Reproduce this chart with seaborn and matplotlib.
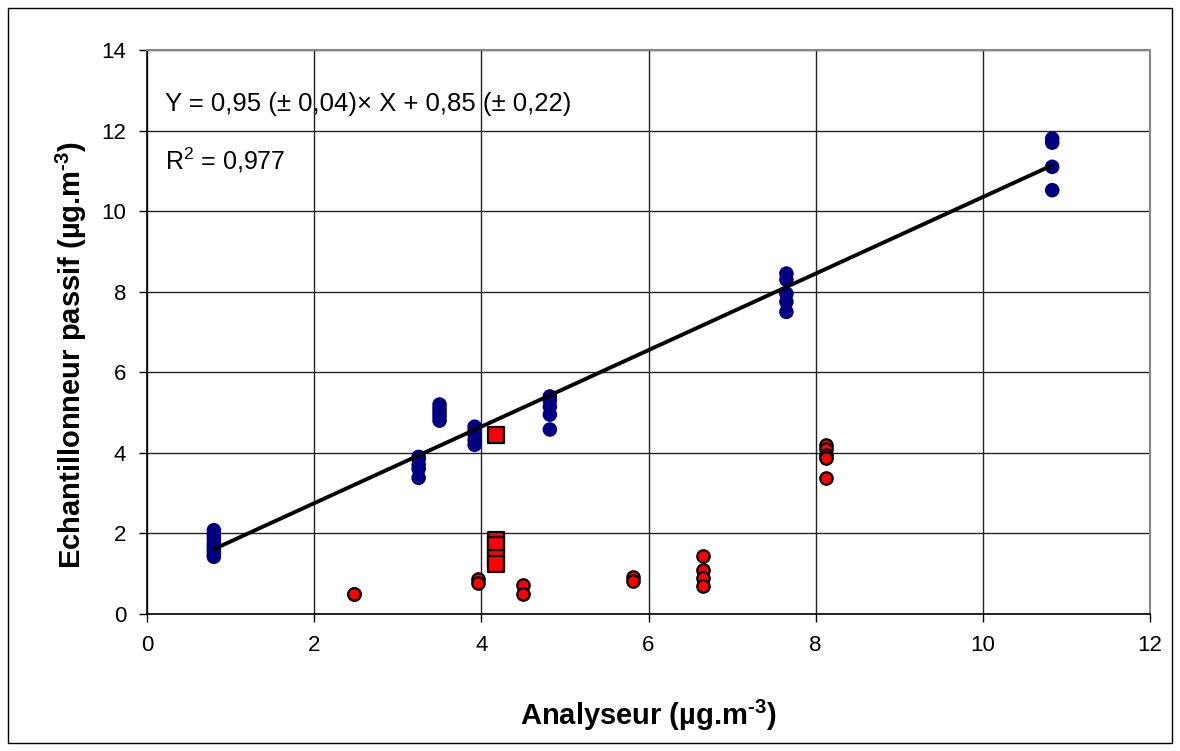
import matplotlib
matplotlib.use("Agg")
from matplotlib import pyplot as plt
from matplotlib.patches import Rectangle
import seaborn as sns
import pandas as pd
import numpy as np

# blue series: passive sampler vs analyser
blue_x = [0.8] * 9 + [3.25] * 5 + [3.5] * 5 + [3.92] * 5 + [4.82] * 5 + [7.65] * 5 + [10.83] * 4
blue_y = [2.08, 1.98, 1.88, 1.78, 1.70, 1.62, 1.55, 1.48, 1.42,
          3.90, 3.84, 3.70, 3.60, 3.38,
          5.20, 5.10, 5.00, 4.90, 4.80,
          4.65, 4.55, 4.45, 4.32, 4.20,
          5.40, 5.30, 5.15, 4.95, 4.58,
          8.45, 8.30, 7.95, 7.75, 7.50,
          11.80, 11.70, 11.10, 10.52]

# red circles
red_x = [2.48, 2.48, 3.96, 3.96, 4.5, 4.5, 5.82, 5.82, 6.65, 6.65, 6.65, 6.65,
         8.12, 8.12, 8.12, 8.12, 8.12]
red_y = [0.50, 0.50, 0.88, 0.78, 0.73, 0.50, 0.92, 0.82, 1.45, 1.10, 0.90, 0.70,
         4.20, 4.10, 3.95, 3.88, 3.38]

# red squares
sq_x = [4.18] * 5
sq_y = [4.44, 1.84, 1.71, 1.39, 1.24]

slope, intercept = 0.95, 0.85
eq_text = "Y = 0,95 (± 0,04)× X + 0,85 (± 0,22)"
r2_text = "R$^2$ = 0,977"
xlabel = "Analyseur (µg.m$^{\u20103}$)"
ylabel = "Echantillonneur passif (µg.m$^{\u20103}$)"

sns.set_theme(style="white")
plt.rcParams["font.family"] = ["Liberation Sans", "DejaVu Sans"]
plt.rcParams["mathtext.default"] = "regular"
plt.rcParams["text.color"] = "black"
plt.rcParams["axes.labelcolor"] = "black"
plt.rcParams["xtick.color"] = "black"
plt.rcParams["ytick.color"] = "black"

blue = pd.DataFrame({"x": blue_x, "y": blue_y})
red = pd.DataFrame({"x": red_x, "y": red_y})
sq = pd.DataFrame({"x": sq_x, "y": sq_y})
fx = np.array([min(blue_x), max(blue_x)])
fit = pd.DataFrame({"x": fx, "y": slope * fx + intercept})

fig = plt.figure(figsize=(11.8, 7.51), dpi=100)
ax = fig.add_axes([147 / 1180, 1 - 614 / 751, (1150 - 147) / 1180, (614 - 50) / 751])

sns.scatterplot(data=blue, x="x", y="y", ax=ax, color="#000080", s=110,
                edgecolor="none", zorder=3)
sns.scatterplot(data=red, x="x", y="y", ax=ax, color="#ff0000", s=80,
                edgecolor="black", linewidth=1.6, zorder=4)
sns.scatterplot(data=sq, x="x", y="y", ax=ax, color="#ff0000", s=140, marker="s",
                edgecolor="black", linewidth=1.6, zorder=4)
sns.lineplot(data=fit, x="x", y="y", ax=ax, color="black", linewidth=2.8, zorder=5)

ax.set_xlim(0, 12)
ax.set_ylim(0, 14)
ax.set_xticks(range(0, 13, 2))
ax.set_yticks(range(0, 15, 2))
ax.grid(True, color="#222222", linewidth=1)
ax.set_axisbelow(True)
ax.tick_params(axis="both", which="major", direction="out", length=6, width=1,
               color="black", labelsize=16, left=True, bottom=True, pad=9)
for side in ["left", "bottom"]:
    ax.spines[side].set_color("black")
    ax.spines[side].set_linewidth(1.2)
for side in ["top", "right"]:
    ax.spines[side].set_color("#888888")
    ax.spines[side].set_linewidth(1.5)

ax.set_xlabel(xlabel, fontsize=21, fontweight="bold", labelpad=30)
ax.set_ylabel(ylabel, fontsize=21, fontweight="bold")
ax.yaxis.set_label_coords(-0.058, 0.46)

ax.text(0.22, 12.65, eq_text, fontsize=18.5, va="center", ha="left")
ax.text(0.22, 11.27, r2_text, fontsize=18, va="center", ha="left")

fig.patches.append(Rectangle((8 / 1180, 8 / 751), 1 - 16 / 1180, 1 - 16 / 751,
                             transform=fig.transFigure, fill=False,
                             edgecolor="black", linewidth=1))

fig.savefig("out.png", dpi=100)
